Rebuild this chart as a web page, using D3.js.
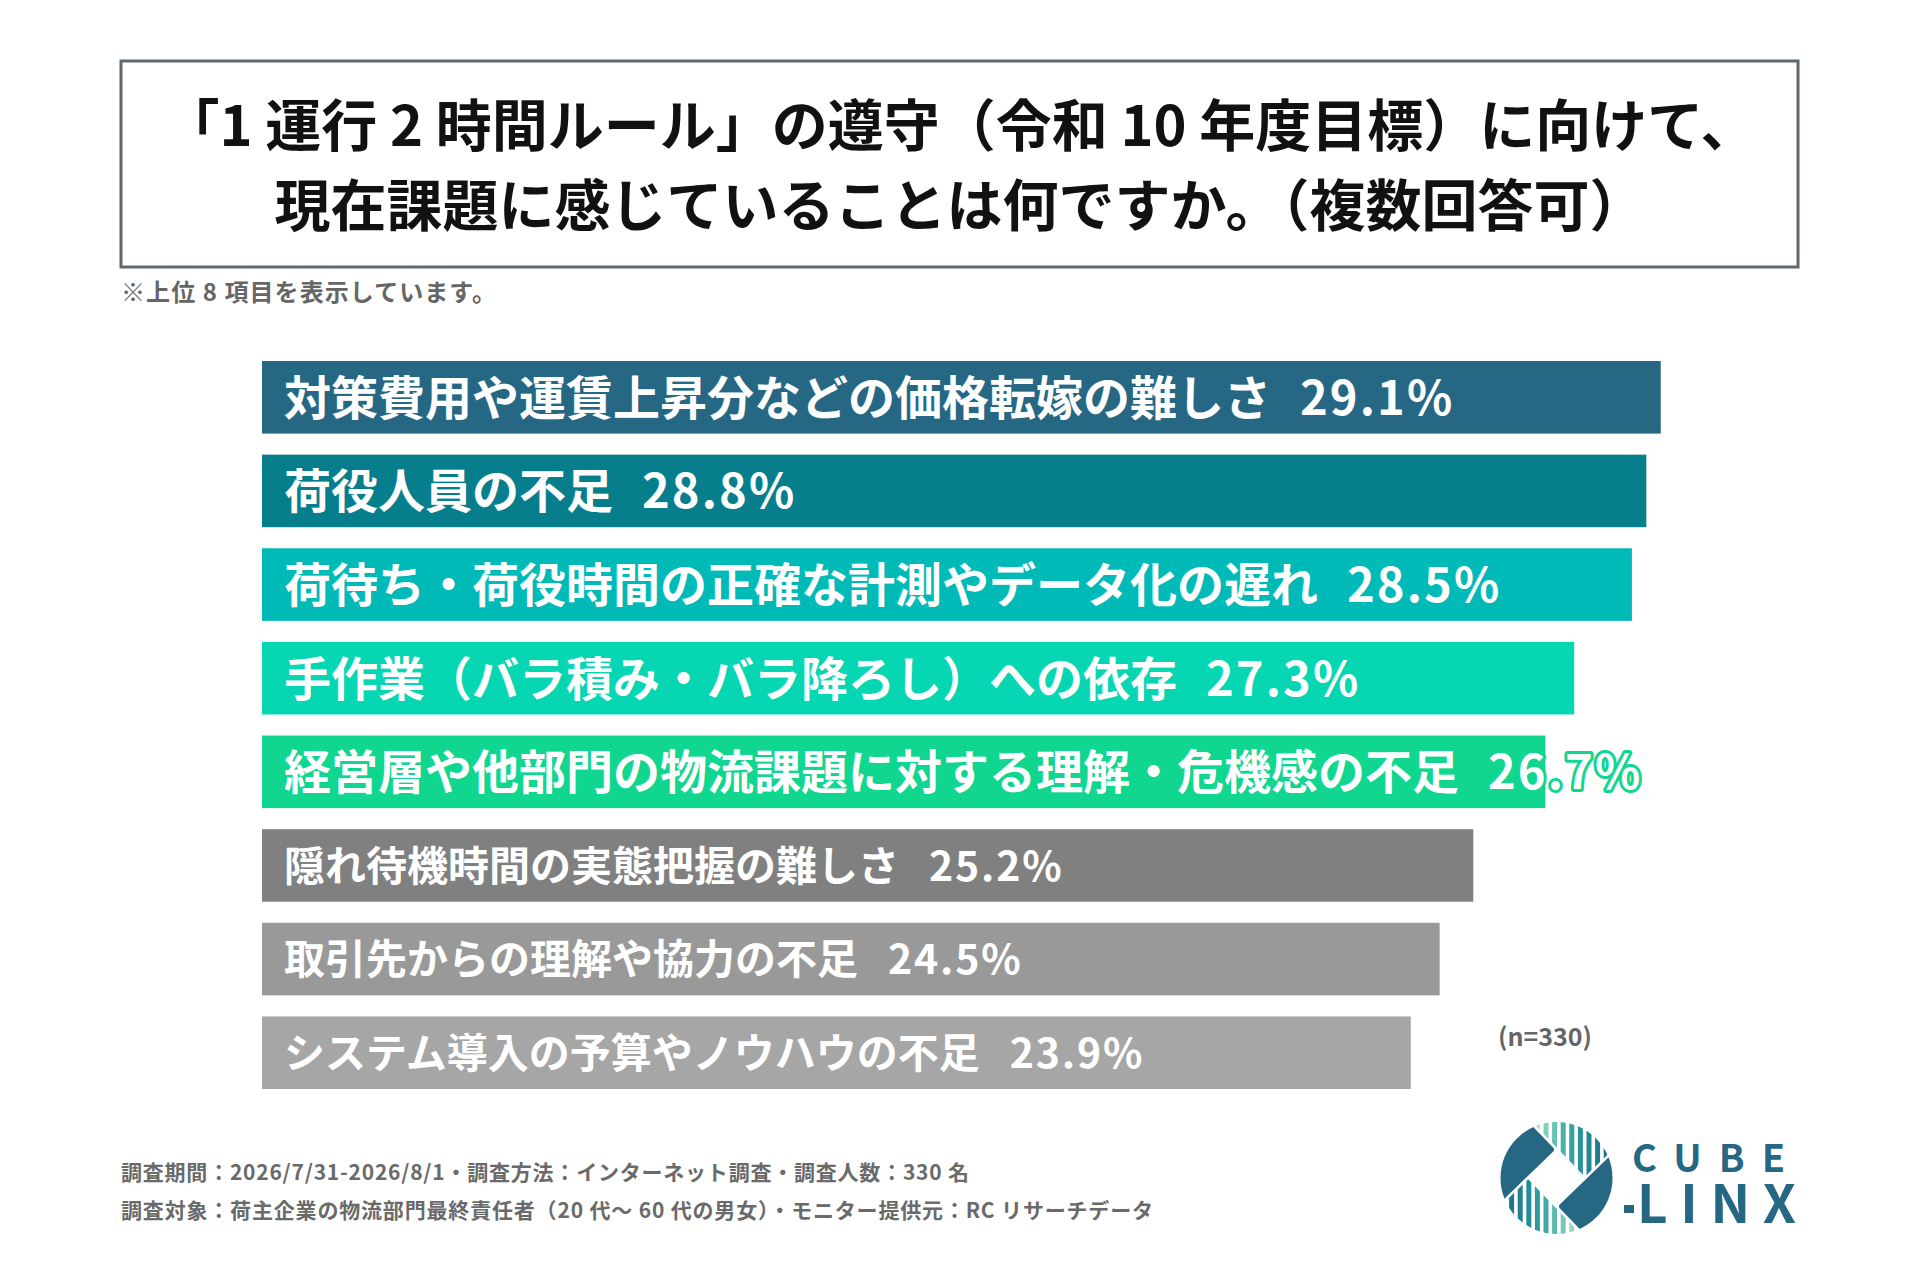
<!DOCTYPE html>
<html><head><meta charset="utf-8">
<script src="https://cdn.jsdelivr.net/npm/d3@7"></script>
<style>
body{margin:0;background:#fff}
svg{display:block}
text{font-family:"Noto Sans CJK JP","Noto Sans",sans-serif;font-weight:700}
</style>
</head><body>
<svg id="chart" width="1920" height="1280"></svg>
<script>
// ---------- data ----------
const titleLines = [
  "「1 運行 2 時間ルール」の遵守（令和 10 年度目標）に向けて、",
  "現在課題に感じていることは何ですか。（複数回答可）"
];
const noteText = "※上位 8 項目を表示しています。";
const categories = [
  "対策費用や運賃上昇分などの価格転嫁の難しさ",
  "荷役人員の不足",
  "荷待ち・荷役時間の正確な計測やデータ化の遅れ",
  "手作業（バラ積み・バラ降ろし）への依存",
  "経営層や他部門の物流課題に対する理解・危機感の不足",
  "隠れ待機時間の実態把握の難しさ",
  "取引先からの理解や協力の不足",
  "システム導入の予算やノウハウの不足"
];
const values = [29.1, 28.8, 28.5, 27.3, 26.7, 25.2, 24.5, 23.9];
const barColors = ["#266884","#067e8b","#00bab8","#06d6b2","#10d68f","#808080","#999999","#a6a6a6"];
const emphasis = [true, true, true, true, true, false, false, false];
const sampleText = "(n=330)";
const footerLines = [
  "調査期間：2026/7/31-2026/8/1・調査方法：インターネット調査・調査人数：330 名",
  "調査対象：荷主企業の物流部門最終責任者（20 代～ 60 代の男女）・モニター提供元：RC リサーチデータ"
];
const logoWords = ["CUBE", "LINX"];

// ---------- drawing ----------
const svg = d3.select("#chart");
const defs = svg.append("defs");

// title box
svg.append("rect").attr("x",121).attr("y",61).attr("width",1677).attr("height",206)
  .attr("fill","none").attr("stroke","#5f676e").attr("stroke-width",3);
svg.append("g").selectAll("text").data(titleLines).join("text")
  .attr("x",960).attr("y",(d,i)=>146+i*80)
  .attr("text-anchor","middle").attr("font-size",56).attr("font-weight",900).attr("fill","#111")
  .text(d=>d);

svg.append("text").attr("x",121).attr("y",301).attr("font-size",24)
  .attr("fill","#666").attr("textLength",375).attr("lengthAdjust","spacing")
  .text(noteText);

// scales
const x = d3.scaleLinear().domain([0,30]).range([262,1704]);
const y = d3.scaleBand().domain(categories).range([361,1089]).paddingInner(0.225).paddingOuter(0);

const rows = categories.map((c,i)=>({cat:c, val:values[i], color:barColors[i], big:emphasis[i]}));

svg.append("g").selectAll("rect").data(rows).join("rect")
  .attr("x",x(0)).attr("y",d=>y(d.cat))
  .attr("width",d=>x(d.val)-x(0)).attr("height",y.bandwidth())
  .attr("fill",d=>d.color);

const labels = svg.append("g").selectAll("text").data(rows).join("text")
  .attr("x",x(0)+22).attr("y",d=>y(d.cat)+y.bandwidth()/2)
  .attr("dy","0.37em").attr("font-size",d=>d.big?47:41).attr("fill","#fff")
  .attr("stroke",d=>d.color).attr("stroke-width",6).attr("stroke-linejoin","round")
  .attr("paint-order","stroke");
labels.append("tspan").text(d=>d.cat);
labels.append("tspan").attr("dx",d=>d.big?29:30).attr("letter-spacing","0.045em").text(d=>d.val.toFixed(1)+"%");

svg.append("text").attr("x",1498).attr("y",1046).attr("font-size",25)
  .attr("fill","#666").attr("textLength",94).attr("lengthAdjust","spacing").text(sampleText);

// footer
svg.append("g").selectAll("text").data(footerLines).join("text")
  .attr("x",121).attr("y",(d,i)=>1180+i*38).attr("font-size",21).attr("fill","#6a6a6a")
  .attr("textLength",(d,i)=>i===0?848:1032).attr("lengthAdjust","spacing")
  .text(d=>d);

// ---------- logo ----------
const cx=1556.5, cy=1178, R=56, s=20, gap=2.6, rot=46;
const darkBlue="#266884";
defs.append("clipPath").attr("id","logoCircle").append("circle").attr("cx",cx).attr("cy",cy).attr("r",R);
defs.append("clipPath").attr("id","clipTR").append("rect")
  .attr("transform",`translate(${cx},${cy}) rotate(${rot})`)
  .attr("x",-R-10).attr("y",-R-10).attr("width",(s-gap/2)+R+10).attr("height",(-s-gap/2)+R+10);
defs.append("clipPath").attr("id","clipBL").append("rect")
  .attr("transform",`translate(${cx},${cy}) rotate(${rot})`)
  .attr("x",-s+gap/2).attr("y",s+gap/2).attr("width",R+10+s-gap/2).attr("height",R+10-s-gap/2);

const logo = svg.append("g").attr("clip-path","url(#logoCircle)");
const rg = logo.append("g").attr("transform",`translate(${cx},${cy}) rotate(${rot})`);
rg.append("rect").attr("x",-R-20).attr("y",-s+gap/2).attr("width",R+20-s-gap/2).attr("height",R+20+s-gap/2)
  .attr("rx",3).attr("fill",darkBlue);
rg.append("rect").attr("x",s+gap/2).attr("y",-R-20).attr("width",R+20-s-gap/2).attr("height",R+20+s-gap/2)
  .attr("rx",3).attr("fill",darkBlue);

const stripeColor = d3.interpolateRgbBasis(["#a8ddce","#62c0b1","#2a9a9b","#1e8291","#256985"]);
const stripeXs = d3.range(cx-R, cx+R, 8.6);
logo.append("g").attr("clip-path","url(#clipTR)").selectAll("rect").data(stripeXs).join("rect")
  .attr("x",d=>d).attr("y",cy-R).attr("width",5).attr("height",2*R)
  .attr("fill",d=>stripeColor(Math.max(0,Math.min(1,(d-(cx-22))/(R+18)))));
logo.append("g").attr("clip-path","url(#clipBL)").selectAll("rect").data(stripeXs).join("rect")
  .attr("x",d=>d).attr("y",cy-R).attr("width",5).attr("height",2*R)
  .attr("fill",d=>stripeColor(Math.max(0,Math.min(1,((cx+22)-d-5)/(R+18)))));

// wordmark
svg.append("text").attr("x",1632).attr("y",1172).attr("font-family","'DejaVu Sans', sans-serif")
  .attr("font-weight",400).attr("font-size",38).attr("fill",darkBlue)
  .attr("textLength",153).attr("lengthAdjust","spacing").text(logoWords[0]);
svg.append("rect").attr("x",1624).attr("y",1205).attr("width",10).attr("height",8).attr("fill",darkBlue);
svg.append("text").attr("x",1637).attr("y",1223).attr("font-family","'DejaVu Sans', sans-serif")
  .attr("font-weight",700).attr("font-size",53).attr("fill",darkBlue)
  .attr("textLength",159).attr("lengthAdjust","spacing").text(logoWords[1]);
</script>
</body></html>
